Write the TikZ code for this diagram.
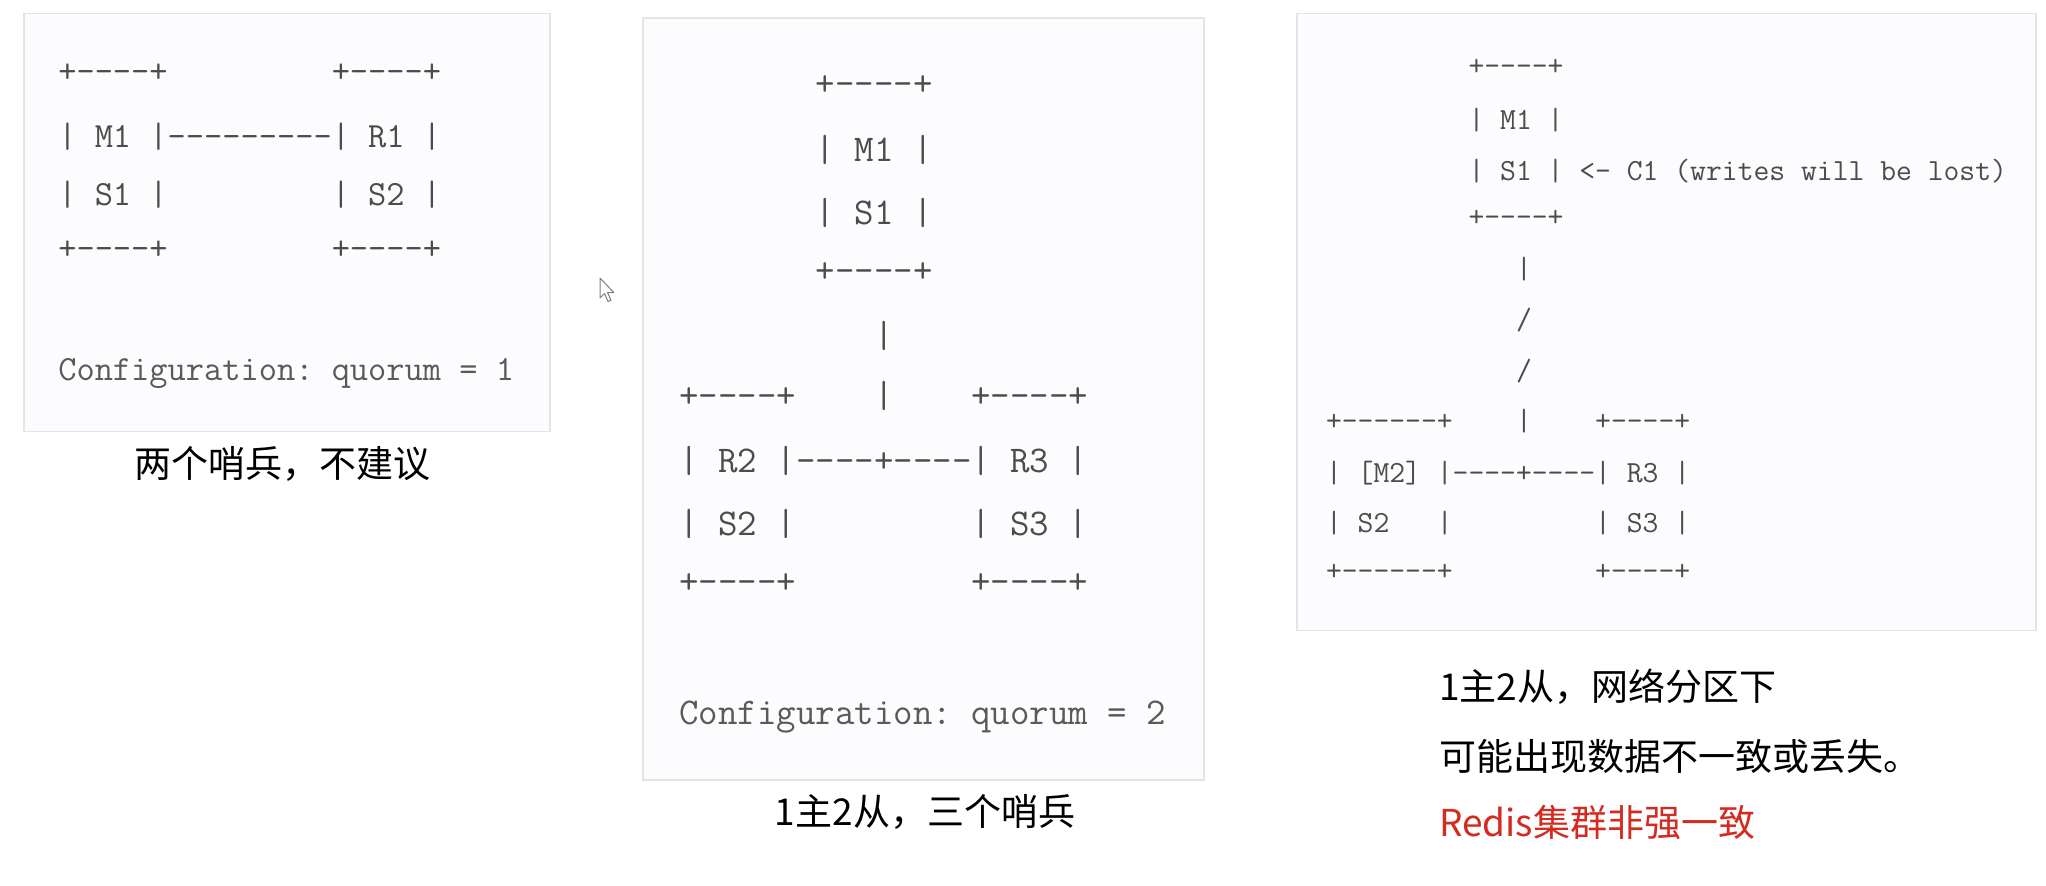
\documentclass[tikz,border=0pt]{standalone}
\usepackage{fontspec}
\newfontfamily\cjk{Noto Sans CJK SC}
\newfontfamily\asciifont{Latin Modern Mono}
\definecolor{asciigray}{HTML}{4C4C4C}
\definecolor{confgray}{HTML}{5A5A5A}
\definecolor{panelfill}{HTML}{FCFBFD}
\definecolor{panelborder}{HTML}{E4E4E4}
\definecolor{noteRed}{HTML}{D42A20}
\newcommand\hy{-\kern0pt}
\begin{document}
\begin{tikzpicture}[x=1pt,y=-1pt,
  panel/.style={draw=panelborder, fill=panelfill, line width=1.5pt, inner sep=0pt, anchor=north west},
  asc/.style={anchor=base west, inner sep=0pt, outer sep=0pt, text=asciigray},
  ascA/.style={asc, font=\asciifont\fontsize{35.4}{40}\selectfont},
  ascB/.style={asc, font=\asciifont\fontsize{37.8}{42}\selectfont},
  ascC/.style={asc, font=\asciifont\fontsize{30.75}{36}\selectfont},
  captext/.style={inner sep=0pt, outer sep=0pt, font=\cjk\fontsize{37}{44}\selectfont}]
\useasboundingbox[fill=white] (0,0) rectangle (2046,886);

% panels
\node[panel, minimum width=526pt, minimum height=418pt] (p1) at (23,12.5) {};
\node[panel, minimum width=561pt, minimum height=762pt] (p2) at (642,17) {};
\node[panel, minimum width=739pt, minimum height=617pt] (p3) at (1296,12.5) {};

% panel 1
\node[ascA] (a1) at (58.3,82) {+\hy\hy\hy\hy+~~~~~~~~~+\hy\hy\hy\hy+};
\node[ascA] (a2) at (58.3,147) {|~M1~|\hy\hy\hy\hy\hy\hy\hy\hy\hy|~R1~|};
\node[ascA] (a3) at (58.3,205) {|~S1~|~~~~~~~~~|~S2~|};
\node[ascA] (a4) at (58.3,259) {+\hy\hy\hy\hy+~~~~~~~~~+\hy\hy\hy\hy+};
\node[ascA, text=confgray] (a5) at (58.3,380) {Configuration:~quorum~=~1};
\node[captext, anchor=base] (c1) at (282,477) {两个哨兵，不建议};

% panel 2
\node[ascB] (b1) at (679.5,95) {~~~~~~~+\hy\hy\hy\hy+};
\node[ascB] (b2) at (679.5,161) {~~~~~~~|~M1~|};
\node[ascB] (b3) at (679.5,224) {~~~~~~~|~S1~|};
\node[ascB] (b4) at (679.5,282) {~~~~~~~+\hy\hy\hy\hy+};
\node[ascB] (b5) at (679.5,347) {~~~~~~~~~~|};
\node[ascB] (b6) at (679.5,407) {+\hy\hy\hy\hy+~~~~|~~~~+\hy\hy\hy\hy+};
\node[ascB] (b7) at (679.5,472) {|~R2~|\hy\hy\hy\hy+\hy\hy\hy\hy|~R3~|};
\node[ascB] (b8) at (679.5,535) {|~S2~|~~~~~~~~~|~S3~|};
\node[ascB] (b9) at (679.5,593) {+\hy\hy\hy\hy+~~~~~~~~~+\hy\hy\hy\hy+};
\node[ascB, text=confgray] (b10) at (679.5,724) {Configuration:~quorum~=~2};
\node[captext, anchor=base] (c2) at (925,825) {1主2从，三个哨兵};

% panel 3
\node[ascC] (d1) at (1326,75) {~~~~~~~~~+\hy\hy\hy\hy+};
\node[ascC] (d2) at (1326,129) {~~~~~~~~~|~M1~|};
\node[ascC] (d3) at (1326,180) {~~~~~~~~~|~S1~|~<\hy~C1~(writes~will~be~lost)};
\node[ascC] (d4) at (1326,226) {~~~~~~~~~+\hy\hy\hy\hy+};
\node[ascC] (d5) at (1326,278) {~~~~~~~~~~~~|};
\node[ascC] (d6) at (1326,329) {~~~~~~~~~~~~/};
\node[ascC] (d7) at (1326,380) {~~~~~~~~~~~~/};
\node[ascC] (d8) at (1326,430) {+\hy\hy\hy\hy\hy\hy+~~~~|~~~~+\hy\hy\hy\hy+};
\node[ascC] (d9) at (1326,482) {|~[M2]~|\hy\hy\hy\hy+\hy\hy\hy\hy|~R3~|};
\node[ascC] (d10) at (1326,532) {|~S2~~~|~~~~~~~~~|~S3~|};
\node[ascC] (d11) at (1326,580) {+\hy\hy\hy\hy\hy\hy+~~~~~~~~~+\hy\hy\hy\hy+};

\node[captext, anchor=base west] (c3a) at (1439,700) {1主2从，网络分区下};
\node[captext, anchor=base west] (c3b) at (1439,770) {可能出现数据不一致或丢失。};
\node[captext, anchor=base west, text=noteRed] (c3c) at (1439,836) {Redis集群非强一致};

% mouse pointer
\draw[fill=white, draw=gray, line width=1pt, line join=round]
  (600,278) -- ++(0,20) -- ++(4.5,-4.5) -- ++(3.5,8) -- ++(3,-1.3) -- ++(-3.5,-7.7) -- ++(6.3,0) -- cycle;
\end{tikzpicture}
\end{document}
